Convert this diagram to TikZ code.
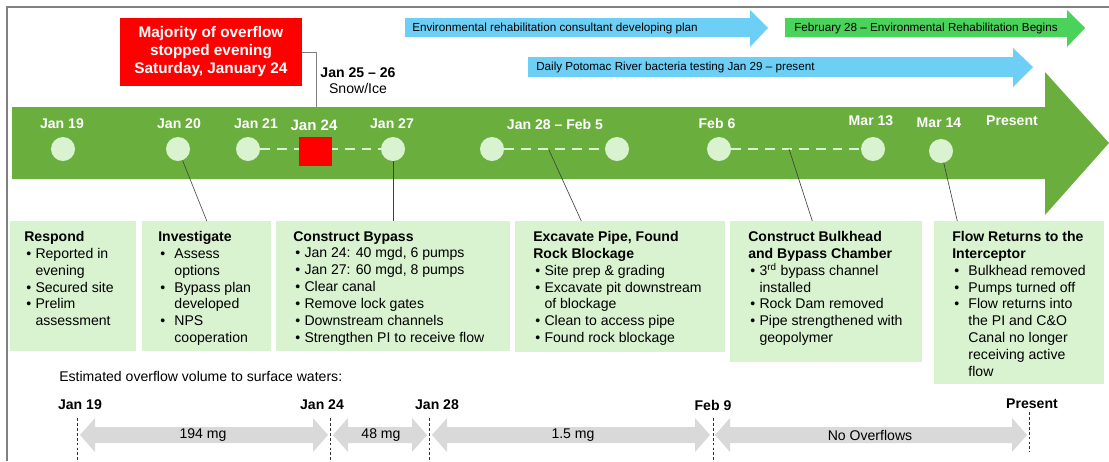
\documentclass[tikz,border=0pt]{standalone}
\usepackage{fontspec}
\setmainfont{Liberation Sans}

\definecolor{bandgreen}{RGB}{106,174,62}
\definecolor{paleg}{RGB}{217,242,208}
\definecolor{skyblue}{RGB}{109,207,246}
\definecolor{brightg}{RGB}{74,210,90}
\definecolor{volgray}{RGB}{217,217,217}

\newcommand{\bul}[1][0.8em]{\makebox[#1][l]{\hspace{0.15em}\textbullet}}
\newcommand{\bulcont}[1][0.8em]{\hspace*{#1}}

\begin{document}
\begin{tikzpicture}[x=0.025cm, y=-0.025cm,
  dot/.style={circle, fill=paleg, inner sep=0pt, minimum size=0.6cm},
  datelbl/.style={text=white, font=\fontsize{10}{12}\selectfont\bfseries},
  dashline/.style={paleg, line width=1.4pt, dash pattern=on 7pt off 5pt},
  stagebox/.style={fill=paleg, inner sep=0pt, anchor=north west},
  stagetext/.style={anchor=north west, inner sep=0pt, align=left, font=\fontsize{10}{12}\selectfont},
  leader/.style={black!75, line width=0.45pt},
  barlbl/.style={anchor=west, inner sep=0pt, font=\fontsize{8.3}{10}\selectfont},
  vol/.style={font=\fontsize{10}{12}\selectfont},
  voldate/.style={font=\fontsize{10}{12}\selectfont\bfseries},
  tick/.style={black!80, line width=0.5pt, dash pattern=on 2pt off 1.5pt}]
\useasboundingbox (0,0) rectangle (1109,461);

% Frame
\draw [gray, line width=1.5pt] (7,461) -- (7,7) -- (1109,7);

% Top arrows
\fill [skyblue] (405,18) -- (750,18) -- (750,10) -- (768,28) -- (750,47) -- (750,37) -- (405,37) -- cycle;
\fill [brightg] (785,18) -- (1067,18) -- (1067,10) -- (1085,28) -- (1067,47) -- (1067,37) -- (785,37) -- cycle;
\fill [skyblue] (528,57) -- (1013,57) -- (1013,48) -- (1033,67) -- (1013,87) -- (1013,77) -- (528,77) -- cycle;
\node [barlbl] (plan) at (412,28) {Environmental rehabilitation consultant developing plan};
\node [barlbl] (rehab) at (794,28) {February 28 -- Environmental Rehabilitation Begins};
\node [barlbl] (testing) at (536,67) {Daily Potomac River bacteria testing Jan 29 -- present};

% Timeline band
\fill [bandgreen] (12,107) -- (1045,107) -- (1045,72) -- (1109,143) -- (1045,215) -- (1045,179) -- (12,179) -- cycle;

% Red note
\node [fill=red, minimum width=4.55cm, minimum height=1.7cm, align=center, text=white,
  font=\fontsize{10.9}{12.8}\selectfont\bfseries] (note) at (211,52)
  {Majority of overflow\\stopped evening\\Saturday, January 24};
\node [align=center, font=\fontsize{10}{11.4}\selectfont] (snow) at (358,81)
  {\textbf{Jan 25 -- 26}\\Snow/Ice};
\coordinate (bandtop) at (316,107);
\draw [gray, line width=0.5pt] (note.east) -| (bandtop);

% Dates on the band
\node [dot] (d19) at (63,149) {};
\node [dot] (d20) at (178,149) {};
\node [dot] (d21) at (248,149) {};
\node [dot] (d27) at (393,149) {};
\node [dot] (d28) at (492,149) {};
\node [dot] (f5) at (617,149) {};
\node [dot] (f6) at (719,149) {};
\node [dot] (m13) at (873,149) {};
\node [dot] (m14) at (941,151) {};
\draw [dashline] (d21) -- (d27);
\draw [dashline] (d28) -- (f5);
\draw [dashline] (f6) -- (m13);
\node [fill=red, minimum width=0.825cm, minimum height=0.725cm, inner sep=0pt] (sq24) at (315.5,151.5) {};

\node [datelbl] (t19) at (62,124) {Jan 19};
\node [datelbl] (t20) at (179,124) {Jan 20};
\node [datelbl] (t21) at (256,124) {Jan 21};
\node [datelbl, font=\fontsize{10.7}{12}\selectfont\bfseries] (t24) at (314,125) {Jan 24};
\node [datelbl] (t27) at (392,124) {Jan 27};
\node [datelbl] (t28) at (555,124) {Jan 28 -- Feb 5};
\node [datelbl] (t6) at (717,123) {Feb 6};
\node [datelbl] (t13) at (871,121) {Mar 13};
\node [datelbl] (t14) at (939,123) {Mar 14};
\node [datelbl] (tnow) at (1012,121) {Present};

% Stage boxes
\node [stagebox, minimum width=3.15cm, minimum height=3.25cm] (respond) at (10,221) {};
\node [stagebox, minimum width=3.225cm, minimum height=3.25cm] (inv) at (142,221) {};
\node [stagebox, minimum width=5.85cm, minimum height=3.25cm] (bypass) at (276,221) {};
\node [stagebox, minimum width=5.25cm, minimum height=3.275cm] (excav) at (515,221) {};
\node [stagebox, minimum width=4.8cm, minimum height=3.525cm] (bulk) at (730,221) {};
\node [stagebox, minimum width=4.25cm, minimum height=4.075cm] (flowret) at (934,221) {};

\node [stagetext] at ([shift={(14,10)}]respond.north west)
  {\textbf{Respond}\\
   \bul Reported in\\ \bulcont evening\\
   \bul Secured site\\
   \bul Prelim\\ \bulcont assessment};
\node [stagetext] at ([shift={(16,10)}]inv.north west)
  {\textbf{Investigate}\\
   \bul[1.15em]Assess\\ \bulcont[1.15em]options\\
   \bul[1.15em]Bypass plan\\ \bulcont[1.15em]developed\\
   \bul[1.15em]NPS\\ \bulcont[1.15em]cooperation};
\node [stagetext] at ([shift={(17,10)}]bypass.north west)
  {\textbf{Construct Bypass}\\
   \bul Jan 24: 40 mgd, 6 pumps\\
   \bul Jan 27: 60 mgd, 8 pumps\\
   \bul Clear canal\\
   \bul Remove lock gates\\
   \bul Downstream channels\\
   \bul Strengthen PI to receive flow};
\node [stagetext] at ([shift={(18,10)}]excav.north west)
  {\textbf{Excavate Pipe, Found}\\ \textbf{Rock Blockage}\\
   \bul Site prep \& grading\\
   \bul Excavate pit downstream\\ \bulcont of blockage\\
   \bul Clean to access pipe\\
   \bul Found rock blockage};
\node [stagetext] at ([shift={(18,10)}]bulk.north west)
  {\textbf{Construct Bulkhead}\\ \textbf{and Bypass Chamber}\\
   \bul 3\textsuperscript{rd} bypass channel\\ \bulcont installed\\
   \bul Rock Dam removed\\
   \bul Pipe strengthened with\\ \bulcont geopolymer};
\node [stagetext] at ([shift={(18,10)}]flowret.north west)
  {\textbf{Flow Returns to the}\\ \textbf{Interceptor}\\
   \bul[1.15em]Bulkhead removed\\
   \bul[1.15em]Pumps turned off\\
   \bul[1.15em]Flow returns into\\ \bulcont[1.15em]the PI and C\&O\\
   \bulcont[1.15em]Canal no longer\\ \bulcont[1.15em]receiving active\\
   \bulcont[1.15em]flow};

% Connectors to boxes
\coordinate (xpt) at (549,150);
\coordinate (bpt) at (789,149);
\draw [leader] (d20) -- (inv.north);
\draw [leader] (d27) -- (d27 |- bypass.north);
\draw [leader] (xpt) -- ([xshift=-0.975cm]excav.north);
\draw [leader] (bpt) -- ([xshift=-0.35cm]bulk.north);
\draw [leader] (m14) -- ([xshift=-1.55cm]flowret.north);

% Overflow volumes
\node [vol, anchor=west, inner sep=0pt] (est) at (59,376) {Estimated overflow volume to surface waters:};
\node [voldate] (b19) at (80,405) {Jan 19};
\node [voldate] (b24) at (322,405) {Jan 24};
\node [voldate] (b28) at (437,405) {Jan 28};
\node [voldate] (b9) at (713,405) {Feb 9};
\node [voldate] (bnow) at (1032,404) {Present};
\draw [tick] (77,418) -- (77,461);
\draw [tick] (330,418) -- (330,461);
\draw [tick] (429,418) -- (429,461);
\draw [tick] (713,418) -- (713,461);
\draw [tick] (1029,412) -- (1029,452);

\fill [volgray] (80,435) -- (95,418) -- (95,427) -- (313,427) -- (313,418) -- (328,435) -- (313,452) -- (313,443) -- (95,443) -- (95,452) -- cycle;
\fill [volgray] (333,435) -- (348,418) -- (348,427) -- (412,427) -- (412,418) -- (427,435) -- (412,452) -- (412,443) -- (348,443) -- (348,452) -- cycle;
\fill [volgray] (432,435) -- (447,418) -- (447,427) -- (695,427) -- (695,418) -- (710,435) -- (695,452) -- (695,443) -- (447,443) -- (447,452) -- cycle;
\fill [volgray] (715,435) -- (730,418) -- (730,427) -- (1012,427) -- (1012,418) -- (1027,435) -- (1012,452) -- (1012,443) -- (730,443) -- (730,452) -- cycle;
\node [vol] (v1) at (203,435) {194 mg};
\node [vol] (v2) at (381,435) {48 mg};
\node [vol] (v3) at (573,435) {1.5 mg};
\node [vol] (v4) at (870,435) {No Overflows};

\end{tikzpicture}
\end{document}
